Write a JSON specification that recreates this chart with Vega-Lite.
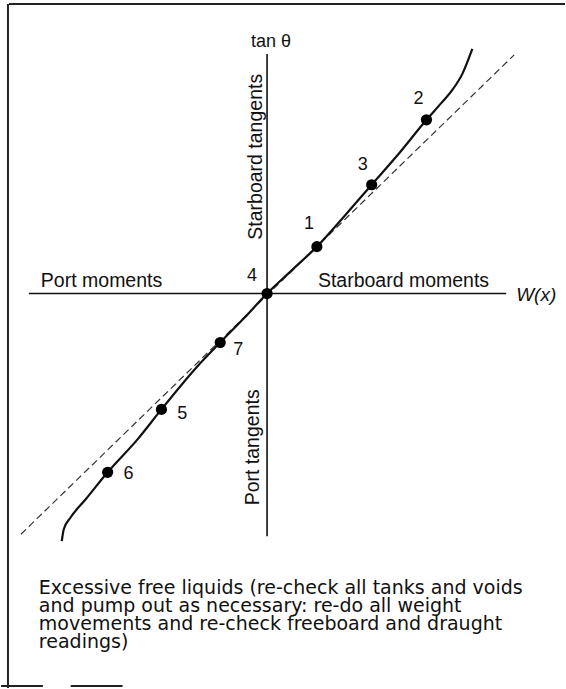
{
  "$schema": "https://vega.github.io/schema/vega-lite/v6.json",
  "width": 566,
  "height": 689,
  "autosize": {"type": "fit", "contains": "padding"},
  "padding": 0,
  "background": "white",
  "config": {"view": {"stroke": null}, "text": {"font": "Liberation Sans", "color": "#111"}},
  "datasets": {
    "frame": [
      {"x": -259, "x2": 299, "y": 290, "y2": 290},
      {"x": -260, "x2": -260, "y": 290, "y2": -395},
      {"x": -267, "x2": -225, "y": -393, "y2": -393},
      {"x": -197, "x2": -145, "y": -393, "y2": -393}
    ],
    "axes": [
      {"x": -239, "x2": 240, "y": 0, "y2": 0},
      {"x": 0, "x2": 0, "y": 240, "y2": -243}
    ],
    "dashed": [
      {"x": -247, "y": -241},
      {"x": 248, "y": 239}
    ],
    "curve": [
      {"x": -206, "y": -248},
      {"x": -204, "y": -236},
      {"x": -197, "y": -224},
      {"x": -182, "y": -206},
      {"x": -160, "y": -179},
      {"x": -130, "y": -146},
      {"x": -106, "y": -116},
      {"x": -70, "y": -73},
      {"x": -47, "y": -49},
      {"x": -23, "y": -24.5},
      {"x": 0, "y": 0},
      {"x": 25, "y": 23.5},
      {"x": 50, "y": 47},
      {"x": 78, "y": 78},
      {"x": 105, "y": 109},
      {"x": 133, "y": 141},
      {"x": 160, "y": 174},
      {"x": 175, "y": 191},
      {"x": 186, "y": 204},
      {"x": 196, "y": 220},
      {"x": 206, "y": 245}
    ],
    "points": [
      {"id": "1", "x": 50, "y": 47, "lx": 42, "ly": 70},
      {"id": "2", "x": 160, "y": 174, "lx": 152, "ly": 195},
      {"id": "3", "x": 105, "y": 109, "lx": 96, "ly": 129},
      {"id": "4", "x": 0, "y": 0, "lx": -15, "ly": 18},
      {"id": "5", "x": -106, "y": -116, "lx": -85, "ly": -121},
      {"id": "6", "x": -160, "y": -179, "lx": -139, "ly": -181},
      {"id": "7", "x": -47, "y": -49, "lx": -29, "ly": -57}
    ],
    "hlabels": [
      {"label": "Port moments", "x": -227, "y": 7},
      {"label": "Starboard moments", "x": 51, "y": 7}
    ],
    "vlabels": [
      {"label": "Starboard tangents", "x": -11, "y": 137},
      {"label": "Port tangents", "x": -14, "y": -154}
    ],
    "ylabel": [{"label": "tan  θ", "x": 4, "y": 247}],
    "xlabel": [{"label": "W(x)", "x": 250, "y": -1}],
    "note": [
      {"x": -229, "y": -301, "text": ["Excessive free liquids (re-check all tanks and voids", "and pump out as necessary: re-do all weight", "movements and re-check freeboard and draught", "readings)"]}
    ]
  },
  "layer": [
    {
      "data": {"name": "frame"},
      "mark": {"type": "rule", "color": "#222", "strokeWidth": 2},
      "encoding": {
        "x": {"field": "x", "type": "quantitative", "scale": {"domain": [-267, 299], "nice": false, "zero": false}, "axis": null},
        "x2": {"field": "x2"},
        "y": {"field": "y", "type": "quantitative", "scale": {"domain": [-395, 294], "nice": false, "zero": false}, "axis": null},
        "y2": {"field": "y2"}
      }
    },
    {
      "data": {"name": "axes"},
      "mark": {"type": "rule", "color": "#111", "strokeWidth": 1.6},
      "encoding": {
        "x": {"field": "x", "type": "quantitative"},
        "x2": {"field": "x2"},
        "y": {"field": "y", "type": "quantitative"},
        "y2": {"field": "y2"}
      }
    },
    {
      "data": {"name": "dashed"},
      "mark": {"type": "line", "color": "#333", "strokeWidth": 1.2, "strokeDash": [7, 4]},
      "encoding": {
        "x": {"field": "x", "type": "quantitative"},
        "y": {"field": "y", "type": "quantitative"}
      }
    },
    {
      "data": {"name": "curve"},
      "mark": {"type": "line", "color": "#111", "strokeWidth": 2.2, "interpolate": "monotone"},
      "encoding": {
        "x": {"field": "x", "type": "quantitative"},
        "y": {"field": "y", "type": "quantitative"}
      }
    },
    {
      "data": {"name": "points"},
      "mark": {"type": "circle", "color": "#000", "opacity": 1, "size": 125},
      "encoding": {
        "x": {"field": "x", "type": "quantitative"},
        "y": {"field": "y", "type": "quantitative"}
      }
    },
    {
      "data": {"name": "points"},
      "mark": {"type": "text", "fontSize": 18, "align": "center", "baseline": "middle"},
      "encoding": {
        "x": {"field": "lx", "type": "quantitative"},
        "y": {"field": "ly", "type": "quantitative"},
        "text": {"field": "id"}
      }
    },
    {
      "data": {"name": "hlabels"},
      "mark": {"type": "text", "fontSize": 19.5, "align": "left", "baseline": "alphabetic"},
      "encoding": {
        "x": {"field": "x", "type": "quantitative"},
        "y": {"field": "y", "type": "quantitative"},
        "text": {"field": "label"}
      }
    },
    {
      "data": {"name": "vlabels"},
      "mark": {"type": "text", "fontSize": 19.5, "align": "center", "baseline": "middle", "angle": 270},
      "encoding": {
        "x": {"field": "x", "type": "quantitative"},
        "y": {"field": "y", "type": "quantitative"},
        "text": {"field": "label"}
      }
    },
    {
      "data": {"name": "ylabel"},
      "mark": {"type": "text", "fontSize": 18, "align": "center", "baseline": "alphabetic"},
      "encoding": {
        "x": {"field": "x", "type": "quantitative"},
        "y": {"field": "y", "type": "quantitative"},
        "text": {"field": "label"}
      }
    },
    {
      "data": {"name": "xlabel"},
      "mark": {"type": "text", "fontSize": 19, "fontStyle": "italic", "align": "left", "baseline": "middle"},
      "encoding": {
        "x": {"field": "x", "type": "quantitative"},
        "y": {"field": "y", "type": "quantitative"},
        "text": {"field": "label"}
      }
    },
    {
      "data": {"name": "note"},
      "mark": {"type": "text", "font": "DejaVu Sans", "fontSize": 19, "align": "left", "baseline": "alphabetic", "lineHeight": 18},
      "encoding": {
        "x": {"field": "x", "type": "quantitative"},
        "y": {"field": "y", "type": "quantitative"},
        "text": {"field": "text"}
      }
    }
  ]
}
